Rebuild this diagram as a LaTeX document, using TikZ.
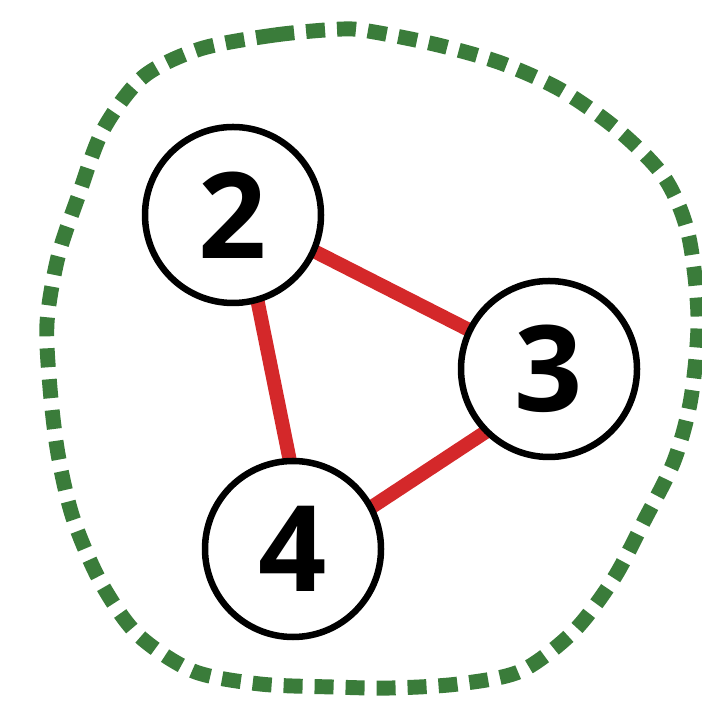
\documentclass[tikz,border=0pt]{standalone}
\usepackage{fontspec}
\setmainfont{Open Sans}
\usepackage{xcolor}
\usepackage{tikz}
\usetikzlibrary{positioning,backgrounds}
\definecolor{edgered}{RGB}{212,40,42}
\definecolor{hullgreen}{RGB}{58,124,58}
\tikzset{
    vertex/.style={circle, draw=black, line width=3.7pt, fill=white, minimum size=3.52cm, inner sep=0, outer sep=0, font=\bfseries\fontsize{68}{68}\selectfont},
    link/.style={draw=edgered, line width=8pt},
    hull/.style={draw=hullgreen, line width=8.5pt, dash pattern=on 0.38cm off 0.24cm},
}

\begin{document}
\begin{tikzpicture}
    \useasboundingbox (0,0) rectangle (14.04,14.04);
    \node[vertex] (n2) at (4.66,9.74) {2};
    \node[vertex, right=2.8cm of n2, yshift=-3.08cm] (n3) {3};
    \node[vertex, below=3.16cm of n2, xshift=1.2cm] (n4) {4};

    \begin{scope}[on background layer]
        \draw[link] (n2.336) -- (n3.154);
        \draw[link] (n2.286) -- (n4.92);
        \draw[link] (n3.225) -- (n4.28);
    \end{scope}

    \draw[hull] plot[smooth cycle, tension=0.5] coordinates {
        (6.86,13.46) (5.50,13.34) (4.00,13.06) (2.86,12.50) (2.06,11.44)
        (1.56,10.10) (1.16,8.90) (0.94,7.58) (1.00,6.28) (1.16,4.96)
        (1.46,3.68) (2.00,2.42) (2.74,1.36) (3.86,0.62) (5.20,0.36)
        (6.66,0.30) (7.82,0.28) (9.16,0.36) (10.42,0.62) (11.48,1.42)
        (12.28,2.48) (12.88,3.62) (13.48,4.82) (13.82,6.08) (13.96,7.70)
        (13.76,9.38) (13.28,10.50) (12.36,11.44) (11.22,12.24) (10.02,12.78)
        (8.76,13.14) (7.48,13.40)};
\end{tikzpicture}
\end{document}
